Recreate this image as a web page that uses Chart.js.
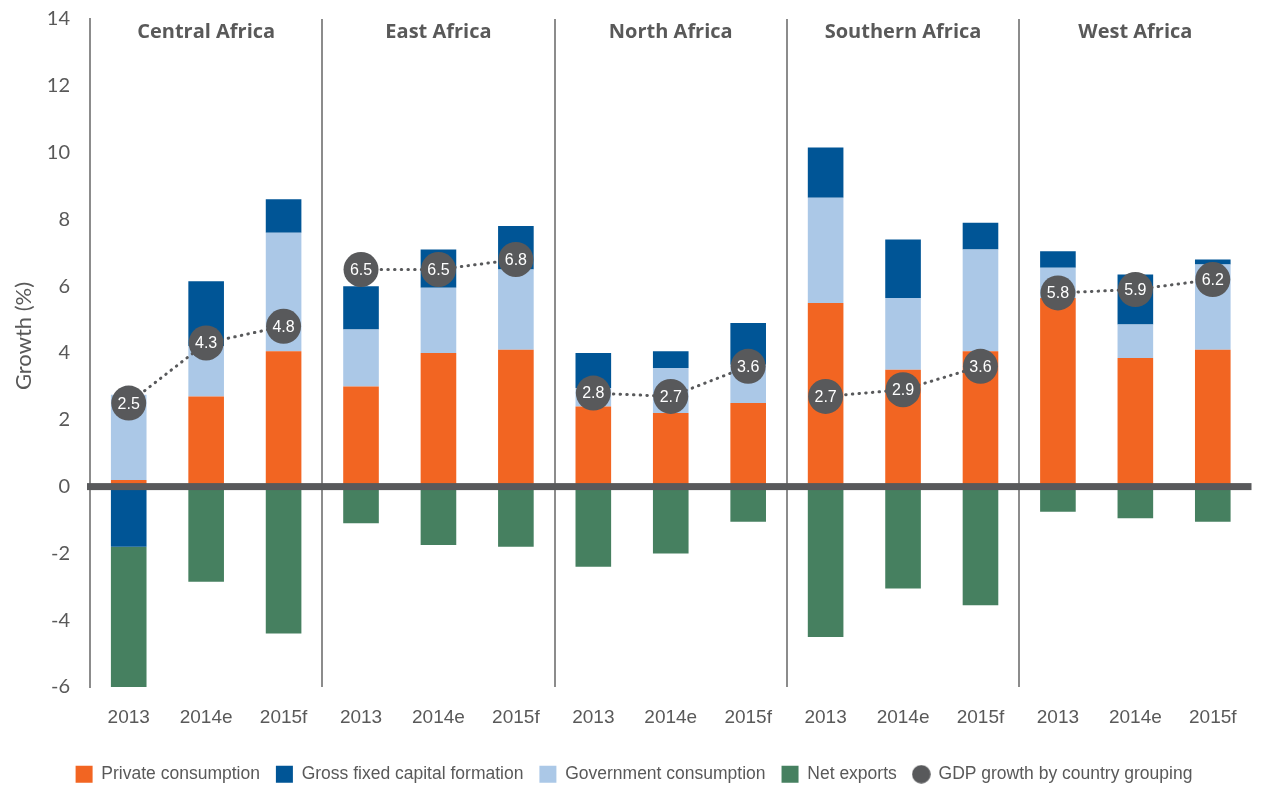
<!DOCTYPE html>
<html><head><meta charset="utf-8">
<script src="https://cdn.jsdelivr.net/npm/chart.js@4"></script>
<style>html,body{margin:0;padding:0;background:#fff;}</style>
</head><body>
<canvas id="c" width="1269" height="787"></canvas>
<script>
// ---- data ----
const regions = ['Central Africa', 'East Africa', 'North Africa', 'Southern Africa', 'West Africa'];
const years = ['2013', '2014e', '2015f'];
const categories = regions.flatMap(() => years);
const privateConsumption    = [0.2, 2.7, 4.05,  3.0, 4.0, 4.1,   2.4, 2.2, 2.5,   5.5, 3.5, 4.05,   5.65, 3.85, 4.1];
const governmentConsumption = [2.55, 1.5, 3.55, 1.7, 1.95, 2.4,  0.55, 1.35, 1.15, 3.15, 2.15, 3.05, 0.9, 1.0, 2.55];
const grossFixedCapital     = [-1.8, 1.95, 1.0, 1.3, 1.15, 1.3,  1.05, 0.5, 1.25, 1.5, 1.75, 0.8,   0.5, 1.5, 0.15];
const netExports            = [-4.4, -2.85, -4.4, -1.1, -1.75, -1.8, -2.4, -2.0, -1.05, -4.5, -3.05, -3.55, -0.75, -0.95, -1.05];
const gdpGrowth             = [2.5, 4.3, 4.8,   6.5, 6.5, 6.8,   2.8, 2.7, 3.6,   2.7, 2.9, 3.6,   5.8, 5.9, 6.2];
const yMin = -6, yMax = 14, yStep = 2;
const yTitle = 'Growth (%)';

const GRAY = '#595959';
const DARK = '#58595b';
const NARROW = "'Liberation Sans Narrow', 'Liberation Sans', Arial, sans-serif";

// legend marker for GDP
const dot = document.createElement('canvas');
dot.width = 19; dot.height = 19;
(function(){ const g = dot.getContext('2d'); g.fillStyle = DARK; g.beginPath(); g.arc(9.5, 9.5, 9.3, 0, Math.PI*2); g.fill(); })();

const legendRank = [0, 2, 1, 3, 4]; // datasetIndex -> legend position

const decorPlugin = {
  id: 'decor',
  beforeLayout(chart) {
    const lg = chart.legend;
    if (lg && !lg._patched) {
      const orig = lg.fit;
      lg.fit = function () { orig.call(this); this.height -= 6; };
      lg._patched = true;
    }
  },
  afterDatasetsDraw(chart) {
    const {ctx, chartArea, scales} = chart;
    const y0 = scales.y.getPixelForValue(0);
    ctx.save();
    ctx.fillStyle = DARK;
    ctx.fillRect(chartArea.left - 3, y0 - 3.5, chartArea.right - chartArea.left + 3, 7);
    ctx.restore();
    // GDP labels
    const meta = chart.getDatasetMeta(4);
    ctx.save();
    ctx.fillStyle = '#ffffff';
    ctx.font = "16px " + NARROW;
    ctx.textAlign = 'center';
    ctx.textBaseline = 'middle';
    meta.data.forEach((pt, i) => {
      ctx.fillText(gdpGrowth[i].toFixed(1), pt.x, pt.y + 1);
    });
    ctx.restore();
  },
  afterDraw(chart) {
    const {ctx, scales} = chart;
    ctx.save();
    ctx.fillStyle = GRAY;
    ctx.font = "bold 20px 'Open Sans', sans-serif";
    ctx.textAlign = 'center';
    ctx.textBaseline = 'middle';
    regions.forEach((r, k) => {
      const x = (scales.x.getPixelForValue(3*k) + scales.x.getPixelForValue(3*k + 2)) / 2;
      ctx.fillText(r, x, 32);
    });
    // y axis title
    ctx.translate(24, 336);
    ctx.rotate(-Math.PI / 2);
    ctx.font = "22px Lato, sans-serif";
    ctx.fillText(yTitle, 0, 0);
    ctx.restore();
  }
};

const barCommon = { barPercentage: 0.92, categoryPercentage: 0.5, borderWidth: 0, stack: 'parts' };

new Chart(document.getElementById('c'), {
  type: 'bar',
  data: {
    labels: categories,
    datasets: [
      { label: 'Private consumption', data: privateConsumption, backgroundColor: '#f26522', ...barCommon },
      { label: 'Government consumption', data: governmentConsumption, backgroundColor: '#abc8e7', ...barCommon },
      { label: 'Gross fixed capital formation', data: grossFixedCapital, backgroundColor: '#005596', ...barCommon },
      { label: 'Net exports', data: netExports, backgroundColor: '#468060', ...barCommon },
      { label: 'GDP growth by country grouping', type: 'line', data: gdpGrowth, stack: 'gdp', order: -1,
        borderColor: DARK, backgroundColor: DARK, borderWidth: 3, borderDash: [0.5, 6.2], borderCapStyle: 'round',
        pointRadius: 17.5, pointHoverRadius: 17.5, pointBackgroundColor: DARK, pointBorderWidth: 0, fill: false,
        segment: { borderColor: (c) => (c.p1DataIndex % 3 === 0 ? 'rgba(0,0,0,0)' : DARK) } }
    ]
  },
  options: {
    responsive: false,
    animation: false,
    devicePixelRatio: 1,
    layout: { padding: { top: 19, right: 1, left: 0, bottom: 0 } },
    plugins: {
      tooltip: { enabled: false },
      legend: {
        position: 'bottom',
        labels: {
          color: GRAY,
          font: { family: NARROW, size: 17.5 },
          boxWidth: 17, boxHeight: 17,
          usePointStyle: true,
          padding: 16,
          sort: (a, b) => legendRank[a.datasetIndex] - legendRank[b.datasetIndex],
          generateLabels(chart) {
            const items = Chart.defaults.plugins.legend.labels.generateLabels(chart);
            items.forEach(it => {
              it.pointStyle = it.datasetIndex === 4 ? dot : 'rect';
              it.lineWidth = 0;
              it.strokeStyle = 'rgba(0,0,0,0)';
              it.fontColor = GRAY;
              it.lineDash = [];
            });
            return items;
          }
        }
      }
    },
    scales: {
      x: {
        stacked: true,
        grid: {
          offset: true,
          drawTicks: false,
          lineWidth: 2,
          color: (c) => (c.index % 3 === 0 ? '#8c8c8c' : 'rgba(0,0,0,0)')
        },
        border: { display: false },
        ticks: { color: GRAY, font: { family: NARROW, size: 19 }, padding: 19, maxRotation: 0, autoSkip: false },
        afterFit: (s) => { s.height = 62.5; }
      },
      y: {
        stacked: true,
        min: yMin, max: yMax,
        grid: { display: false, drawTicks: false },
        border: { display: true, color: '#8c8c8c', width: 2 },
        ticks: { stepSize: yStep, color: GRAY, font: { family: "Lato, sans-serif", size: 20 }, padding: 20 },
        title: { display: false },
        afterFit: (s) => { s.width = 90; s.paddingTop = 0; s.paddingBottom = 0; }
      }
    }
  },
  plugins: [decorPlugin]
});
</script>
</body></html>
